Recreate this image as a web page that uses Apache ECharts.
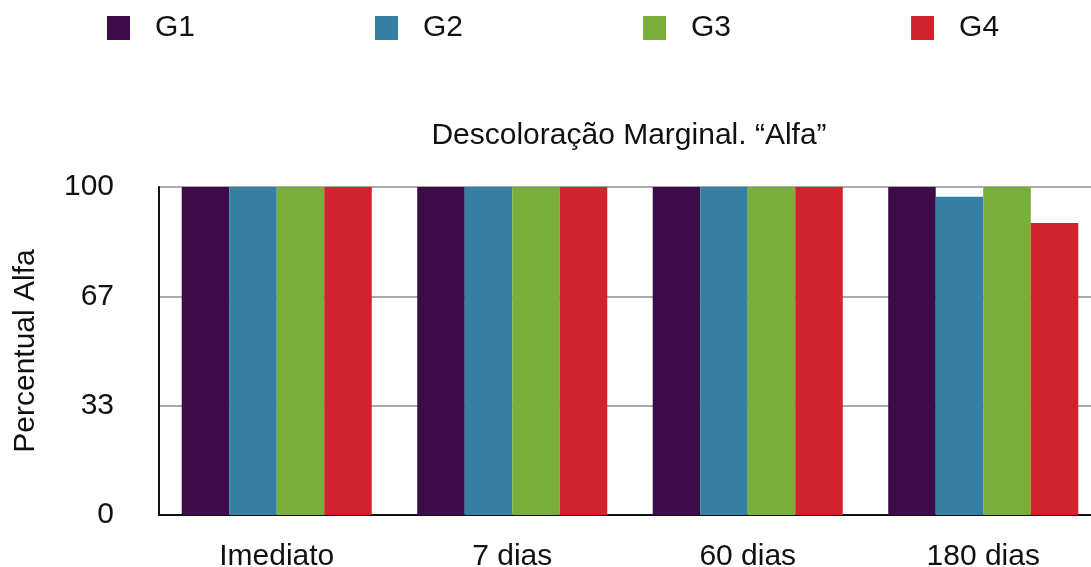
<!DOCTYPE html>
<html>
<head>
<meta charset="utf-8">
<script src="https://cdn.jsdelivr.net/npm/echarts@6/dist/echarts.min.js"></script>
<style>
  html, body { margin: 0; padding: 0; background: #fff; overflow: hidden; }
  #chart { width: 1101px; height: 567px; }
</style>
</head>
<body>
<div id="chart"></div>
<script>
// Time points and group results (percentage of "Alfa" scores)
const categories = ['Imediato', '7 dias', '60 dias', '180 dias'];
const groupNames = ['G1', 'G2', 'G3', 'G4'];
const g1 = [100, 100, 100, 100];
const g2 = [100, 100, 100, 97];
const g3 = [100, 100, 100, 100];
const g4 = [100, 100, 100, 89];
const yTicks = [0, 33, 67, 100];

const colors = ['#3d0b47', '#357fa3', '#7aae3b', '#d0232d'];
const font = 'Liberation Sans, Helvetica, Arial, sans-serif';

const chart = echarts.init(document.getElementById('chart'));
const seriesData = [g1, g2, g3, g4];

chart.setOption({
  animation: false,
  color: colors,
  title: {
    text: 'Descoloração Marginal. “Alfa”',
    left: 624,
    textAlign: 'center',
    top: 116,
    textStyle: { fontFamily: font, fontSize: 30, fontWeight: 'normal', color: '#111' }
  },
  legend: {
    data: groupNames,
    left: 107,
    top: 13,
    padding: 0,
    itemWidth: 23,
    itemHeight: 24,
    itemGap: 180,
    icon: 'rect',
    textStyle: { fontFamily: font, fontSize: 30, color: '#111', padding: [0, 0, 0, 20] }
  },
  grid: { left: 159, right: 0, top: 187, bottom: 52, containLabel: false, outerBoundsMode: 'none' },
  xAxis: {
    type: 'category',
    data: categories,
    axisLine: { lineStyle: { color: '#111', width: 2 } },
    axisTick: { show: false },
    axisLabel: { fontFamily: font, fontSize: 30, color: '#111', margin: 27 }
  },
  yAxis: {
    type: 'value',
    min: 0,
    max: 100,
    interval: 100 / 3,
    name: 'Percentual Alfa',
    nameLocation: 'middle',
    nameGap: 118,
    nameTextStyle: { fontFamily: font, fontSize: 30, color: '#111' },
    axisLine: { show: true, lineStyle: { color: '#111', width: 2 } },
    axisTick: { show: false },
    splitLine: { lineStyle: { color: '#aaaaaa', width: 2 } },
    axisLabel: {
      fontFamily: font, fontSize: 30, color: '#111', margin: 45,
      formatter: v => {
        const r = Math.round(v);
        return yTicks.includes(r) ? String(r) : '';
      }
    }
  },
  series: groupNames.map((name, i) => ({
    name,
    type: 'bar',
    data: seriesData[i],
    barGap: '0%',
    barCategoryGap: '19.3%'
  }))
});
</script>
</body>
</html>
